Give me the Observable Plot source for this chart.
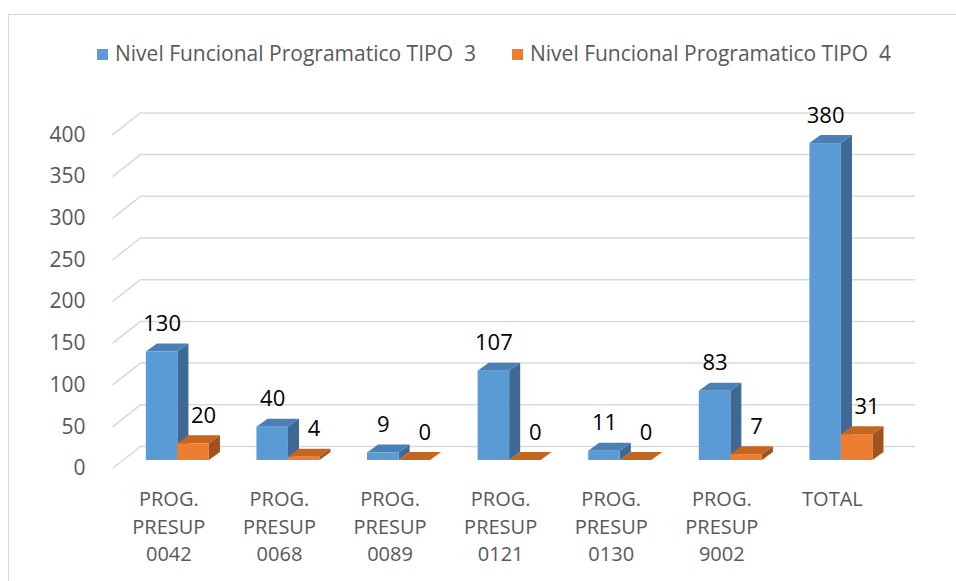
<!DOCTYPE html>
<html><head><meta charset="utf-8">
<script src="https://cdn.jsdelivr.net/npm/d3@7"></script>
<script src="https://cdn.jsdelivr.net/npm/@observablehq/plot@0.6"></script>
<style>
body{margin:0;background:#fff;overflow:hidden;font-family:"Open Sans",sans-serif;}
#wrap{position:relative;width:956px;height:581px;overflow:hidden;}
#frame{position:absolute;left:8px;top:14px;width:1000px;height:700px;border:1px solid #d9d9d9;}
#legend{position:absolute;top:0;left:0;width:956px;height:90px;}
.item{position:absolute;top:38px;font-size:21px;color:#595959;white-space:nowrap;line-height:30px}
.sw{display:inline-block;width:11px;height:11px;margin-right:7px;vertical-align:middle;position:relative;top:-1px}
#chart{position:absolute;top:90px;left:0}
</style></head>
<body>
<div id="wrap">
  <div id="frame"></div>
  <div id="legend"></div>
  <div id="chart"></div>
</div>
<script>
// ---- data ----
const categories = ["PROG.\nPRESUP\n0042","PROG.\nPRESUP\n0068","PROG.\nPRESUP\n0089","PROG.\nPRESUP\n0121","PROG.\nPRESUP\n0130","PROG.\nPRESUP\n9002","TOTAL"];
const tipo3 = [130, 40, 9, 107, 11, 83, 380];
const tipo4 = [20, 4, 0, 0, 0, 7, 31];
const seriesNames = ["Nivel Funcional Programatico TIPO  3", "Nivel Funcional Programatico TIPO  4"];
const yTicks = [0, 50, 100, 150, 200, 250, 300, 350, 400];

// ---- styling / 3D geometry constants (data units) ----
const colors = {front:["#5b9bd5","#ed7d31"], top:["#4a80b5","#c4661f"], side:["#3d6994","#a2531b"]};
const XLEFT = -0.591, XRIGHT = 6.67;
const BAR_W = 0.285, DX = 0.1, DY = 9.6;       // bar width and depth
const BACK_X = 0.253, BACK_Y = 16.8, FRONT_Y = -9.6; // wall/floor offsets

// legend
const legend = document.getElementById("legend");
const lefts = [97, 512];
seriesNames.forEach((n, s) => {
  const d = document.createElement("div");
  d.className = "item";
  d.style.left = lefts[s] + "px";
  d.innerHTML = `<span class="sw" style="background:${colors.front[s]}"></span>${n.replace(/  /g," &nbsp;")}`;
  legend.appendChild(d);
});

// bars
const bars = [];
categories.forEach((c, i) => {
  bars.push({s:0, i, v:tipo3[i], x1:i-BAR_W, x2:i});
  bars.push({s:1, i, v:tipo4[i], x1:i, x2:i+BAR_W});
});
bars.forEach((b, k) => b.k = k);

function sidePts(bs){ return bs.flatMap(b => [
  {k:b.k, x:b.x2, y1:0, y2:b.v},
  {k:b.k, x:b.x2+DX, y1:DY, y2:b.v+DY}]); }
function topPts(bs){ return bs.flatMap(b => [
  {k:b.k, x:b.x1, y1:b.v, y2:b.v},
  {k:b.k, x:b.x1+DX, y1:b.v, y2:b.v+DY},
  {k:b.k, x:b.x2, y1:b.v, y2:b.v+DY},
  {k:b.k, x:b.x2+DX, y1:b.v+DY, y2:b.v+DY}]); }

const barMarks = [0,1].flatMap(s => {
  const bs = bars.filter(b => b.s === s);
  return [
    Plot.areaY(sidePts(bs), {x:"x", y1:"y1", y2:"y2", z:"k", fill:colors.side[s]}),
    Plot.areaY(topPts(bs), {x:"x", y1:"y1", y2:"y2", z:"k", fill:colors.top[s]}),
    Plot.rect(bs, {x1:"x1", x2:"x2", y1:0, y2:"v", fill:colors.front[s]})
  ];
});

const chart = Plot.plot({
  width: 956, height: 491,
  marginLeft: 112, marginRight: 41, marginTop: 36.4, marginBottom: 121,
  style: {fontFamily: "'Open Sans', sans-serif", background: "transparent"},
  x: {type:"linear", domain:[XLEFT, XRIGHT], axis:null},
  y: {domain:[0, 400], axis:null},
  marks: [
    Plot.ruleY(yTicks, {y: d => d + BACK_Y, x1: XLEFT + BACK_X, x2: XRIGHT, stroke:"#d9d9d9", strokeWidth:1.5}),
    Plot.link(yTicks, {x1: XLEFT, y1: d => d + FRONT_Y, x2: XLEFT + BACK_X, y2: d => d + BACK_Y, stroke:"#d9d9d9", strokeWidth:1.5}),
    Plot.text(yTicks, {x: XLEFT, y: d => d + FRONT_Y, text: d => String(d), textAnchor:"end", dx:-27, fontSize:21, fill:"#595959"}),
    ...barMarks,
    Plot.text(bars, {x: b => (b.x1 + b.x2)/2 + (b.s === 1 ? 0.09 : 0), y:"v", dy:-28, text: b => String(b.v), fontSize:22, fill:"#000"}),
    Plot.text(categories, {x: (d, i) => i, y: 0, text: d => d, dx:-9, dy:26, lineAnchor:"top", lineHeight:1.38, fontSize:20, fill:"#595959"})
  ]
});
document.getElementById("chart").appendChild(chart);
</script>
</body></html>
